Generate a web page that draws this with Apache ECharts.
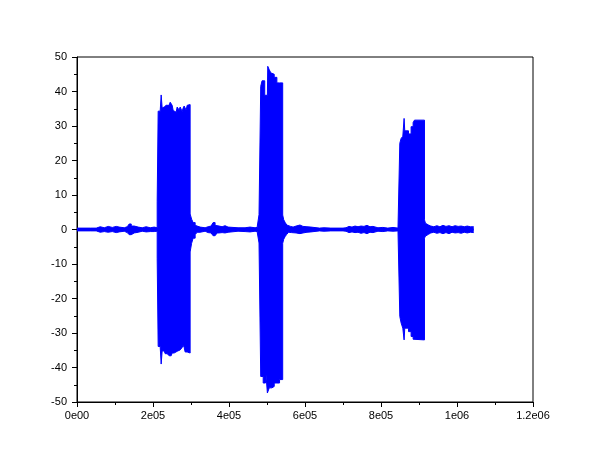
<!DOCTYPE html>
<html><head><meta charset="utf-8">
<script src="https://cdn.jsdelivr.net/npm/echarts@6/dist/echarts.min.js"></script>
<style>html,body{margin:0;padding:0;background:#fff}#c{width:610px;height:460px}</style>
</head><body><div id="c"></div>
<script>
const envX = [
  0, 35000, 50700, 61200, 71700, 82200, 92800, 103300, 111100, 124300,
  132200, 137400, 142700, 150600, 161100, 171600, 182100, 192600, 203100, 211000,
  213600, 216300, 218900, 221500, 224100, 226800, 229400, 232000, 234700, 237300,
  239900, 242500, 245200, 247800, 250400, 253100, 255700, 258300, 260900, 263600,
  266200, 268800, 271500, 274100, 276700, 279300, 282000, 284600, 287200, 289900,
  292500, 295100, 297700, 301600, 305600, 310900, 316100, 324000, 337100, 345000,
  352900, 358100, 363400, 368600, 373900, 381800, 389700, 397500, 423800, 442200,
  455300, 468500, 474000, 479000, 483500, 487000, 490000, 494000, 496000, 501000,
  502000, 506000, 510000, 513000, 515000, 519000, 526000, 533000, 541300, 544000,
  548000, 552000, 557000, 562000, 565000, 568700, 576600, 581500, 586800, 594700,
  605200, 615700, 638000, 650000, 668000, 673000, 700000, 707900, 715800, 723700,
  731600, 739500, 747300, 755200, 763100, 771000, 778900, 792000, 805000, 818000,
  831600, 844700, 849500, 853000, 857400, 860800, 862500, 872400, 879200, 884500,
  888100, 914400, 917000, 921000, 925000, 931000, 939000, 947000, 955000, 963000,
  971000, 979000, 987000, 995000, 1003000, 1011000, 1019000, 1027000, 1035000, 1044000
];
const envHi = [
  0.4, 0.4, 0.8, 0.5, 0.9, 0.6, 0.9, 0.7, 0.5, 0.8,
  1.0, 1.6, 1.0, 0.7, 0.5, 0.8, 0.5, 0.7, 0.5, 8.2,
  34.3, 34.3, 34.5, 39.0, 35.2, 35.5, 35.8, 36.0, 36.5, 36.3,
  36.0, 36.5, 36.9, 36.9, 36.0, 34.5, 35.0, 34.0, 34.3, 35.5,
  35.5, 34.6, 35.5, 35.0, 34.2, 35.2, 35.8, 35.2, 34.6, 36.0,
  36.2, 36.2, 4.5, 3.0, 2.0, 1.2, 0.7, 0.5, 0.8, 1.0,
  1.2, 2.0, 1.2, 1.0, 0.8, 1.1, 0.7, 0.5, 0.5, 0.7,
  0.5, 0.6, 1.0, 4.3, 41.5, 43.1, 43.1, 38.9, 38.9, 38.9,
  47.3, 46.3, 45.4, 45.4, 45.0, 44.1, 42.5, 42.5, 4.2, 2.8,
  2.0, 1.3, 0.9, 1.2, 0.7, 1.0, 0.8, 1.3, 0.9, 0.8,
  0.7, 0.4, 0.5, 0.4, 0.6, 0.4, 0.5, 0.9, 0.7, 1.0,
  0.8, 1.0, 0.9, 1.2, 0.8, 0.9, 0.5, 0.6, 0.4, 0.6,
  0.4, 0.5, 25.0, 26.4, 27.0, 32.2, 28.6, 27.7, 29.8, 31.0,
  31.7, 2.8, 1.8, 1.3, 1.0, 0.8, 1.1, 0.8, 1.2, 0.9,
  1.1, 0.8, 1.1, 0.9, 1.0, 0.8, 1.0, 0.8, 0.8, 0.8
];
const envLo = [
  -0.4, -0.4, -0.8, -0.6, -0.8, -0.6, -0.9, -0.7, -0.5, -0.9,
  -1.1, -1.5, -1.0, -0.8, -0.5, -0.7, -0.6, -0.6, -0.5, -8.3,
  -33.9, -33.9, -33.9, -39.0, -35.2, -35.2, -35.2, -36.0, -36.0, -36.0,
  -36.0, -36.6, -36.6, -36.6, -35.8, -35.8, -35.3, -35.3, -35.3, -35.3,
  -34.9, -34.9, -34.9, -34.9, -34.2, -33.5, -34.2, -35.5, -35.5, -35.8,
  -35.8, -35.8, -6.5, -4.0, -2.5, -1.5, -0.8, -0.5, -0.9, -1.0,
  -1.4, -1.8, -1.3, -1.0, -0.9, -1.0, -0.8, -0.5, -0.6, -0.7,
  -0.5, -0.6, -1.0, -3.9, -42.6, -42.6, -44.5, -44.5, -40.1, -47.4,
  -47.4, -45.9, -45.9, -45.5, -45.5, -44.5, -44.5, -43.5, -4.0, -2.8,
  -2.0, -1.4, -0.8, -0.9, -0.7, -1.0, -0.8, -1.2, -1.0, -0.8,
  -0.7, -0.4, -0.5, -0.4, -0.6, -0.4, -0.5, -0.9, -0.7, -0.9,
  -0.8, -1.1, -0.9, -1.2, -0.8, -0.9, -0.5, -0.6, -0.4, -0.5,
  -0.4, -0.5, -25.2, -27.1, -28.6, -32.0, -28.6, -29.6, -31.0, -31.8,
  -32.0, -2.5, -1.9, -1.4, -1.0, -0.8, -1.1, -0.9, -1.2, -0.9,
  -1.2, -0.8, -1.0, -0.9, -1.1, -0.8, -1.0, -0.8, -0.9, -0.8
];
const xTickLabels = ['0e00', '2e05', '4e05', '6e05', '8e05', '1e06', '1.2e06'];
const yTicks = [-50, -40, -30, -20, -10, 0, 10, 20, 30, 40, 50];

const hiData = envX.map((x, i) => [x, envHi[i]]);
const loData = envX.map((x, i) => [x, envLo[i]]);

const BLUE = '#0000ff';
const axisCommon = {
  axisLine: { show: true, onZero: false, lineStyle: { color: '#000', width: 1 } },
  axisTick: { show: true, length: 5, lineStyle: { color: '#000', width: 1 } },
  minorTick: { show: true, splitNumber: 2, length: 3, lineStyle: { color: '#000', width: 1 } },
  splitLine: { show: false },
  minorSplitLine: { show: false }
};

const chart = echarts.init(document.getElementById('c'), null, { renderer: 'canvas' });
chart.setOption({
  animation: false,
  backgroundColor: '#fff',
  grid: { left: 77, right: 77, top: 57, bottom: 58, show: true, borderColor: '#000', borderWidth: 1, backgroundColor: 'transparent' },
  xAxis: Object.assign({
    type: 'value', min: 0, max: 1200000, interval: 200000,
    axisLabel: { color: '#000', fontFamily: 'Liberation Sans', fontSize: 11, margin: 8,
      formatter: v => xTickLabels[Math.round(v / 200000)] }
  }, axisCommon),
  yAxis: Object.assign({
    type: 'value', min: yTicks[0], max: yTicks[yTicks.length - 1], interval: 10,
    axisLabel: { color: '#000', fontFamily: 'Liberation Sans', fontSize: 11, margin: 10 }
  }, axisCommon),
  series: [
    { type: 'line', data: hiData, step: 'end', showSymbol: false, silent: true,
      lineStyle: { color: BLUE, width: 1 }, itemStyle: { color: BLUE },
      areaStyle: { color: BLUE, opacity: 1, origin: -0.3 } },
    { type: 'line', data: loData, step: 'end', showSymbol: false, silent: true,
      lineStyle: { color: BLUE, width: 1 }, itemStyle: { color: BLUE },
      areaStyle: { color: BLUE, opacity: 1, origin: 0.3 } }
  ]
});
</script>
</body></html>
